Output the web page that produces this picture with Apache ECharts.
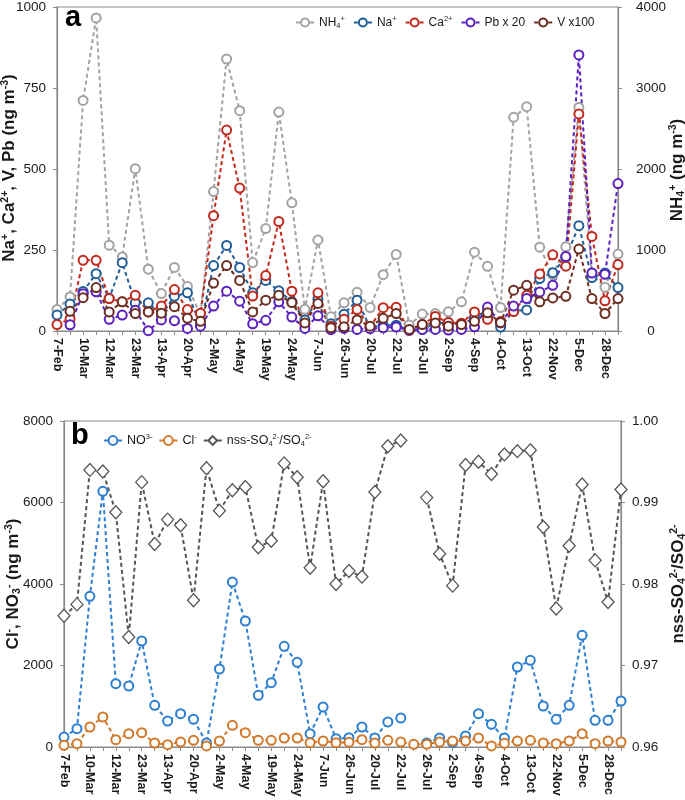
<!DOCTYPE html>
<html><head><meta charset="utf-8">
<script src="https://cdn.jsdelivr.net/npm/echarts@6/dist/echarts.min.js"></script>
<style>html,body{margin:0;padding:0;background:#fff}#c{width:685px;height:800px}</style>
</head><body><div id="c"></div>
<script>
const tickLabels = ['7-Feb','10-Mar','12-Mar','23-Mar','13-Apr','20-Apr','2-May','4-May','19-May','24-May','7-Jun','26-Jun','20-Jul','22-Jul','26-Jul','2-Sep','4-Sep','4-Oct','13-Oct','22-Nov','5-Dec','28-Dec'];
// panel a
const nh4 = [266,421,2847,3865,1060,915,2004,763,462,785,548,200,1722,3358,2720,845,1264,2703,1583,268,1125,176,348,478,290,695,945,74,209,215,237,360,973,798,290,2638,2769,1035,695,1040,2760,700,540,950];
const na = [49,83,122,177,101,211,87,87,49,107,118,18,202,264,196,118,156,124,91,34,98,22,52,95,11,18,18,3,5,24,26,18,42,63,12,62,65,162,180,227,325,165,179,134];
const ca = [20,37,218,218,100,90,110,59,77,128,66,55,356,620,441,108,171,338,123,22,118,15,36,66,13,72,73,2,20,45,26,24,59,36,29,60,110,176,235,200,670,292,93,205];
const pb20 = [null,19,115,121,36,49,64,1,34,32,8,15,77,123,92,22,33,90,43,8,47,4,8,5,7,10,12,3,5,5,3,5,13,74,25,77,100,120,141,230,852,179,175,455];
const v100 = [null,61,103,134,59,90,54,59,55,75,39,30,148,202,156,59,95,110,88,25,85,10,13,34,15,39,54,5,20,25,15,20,30,56,26,126,141,90,102,107,253,100,54,100];
// panel b
const no3 = [245,450,3697,6274,1554,1497,2601,1023,638,818,679,98,1914,4049,3092,1268,1579,2470,2078,327,982,205,229,491,221,614,712,null,98,221,106,270,818,556,221,1963,2127,1006,679,1023,2740,654,654,1129];
const cl = [41,82,491,736,180,327,352,98,57,123,164,25,147,532,352,164,164,221,221,106,147,106,115,180,98,164,123,65,70,123,147,147,221,25,90,147,164,98,82,147,327,82,147,123];
const ratio = [0.9761,0.9775,0.9940,0.9938,0.9888,0.9735,0.9925,0.9849,0.9879,0.9872,0.9780,0.9942,0.9890,0.9915,0.9919,0.9845,0.9853,0.9948,0.9931,0.9820,0.9926,0.9800,0.9816,0.9809,0.9913,0.9969,0.9976,null,0.9906,0.9837,0.9798,0.9946,0.9950,0.9935,0.9959,0.9963,0.9964,0.9870,0.9770,0.9847,0.9922,0.9829,0.9778,0.9916];

const categories = [];
for (let i = 0; i < nh4.length; i++) categories.push(i % 2 === 0 ? tickLabels[i / 2] : '');

const FONT = '"Liberation Sans", Arial, Helvetica, sans-serif';
const AXIS_C = '#8a8a8a';
const TXT = '#1a1a1a';

function lineSeries(name, data, color, xi, yi, sym) {
  const isDia = sym === 'diamond';
  return {
    name, type: 'line', data, xAxisIndex: xi, yAxisIndex: yi,
    symbol: isDia ? 'diamond' : 'circle',
    symbolSize: isDia ? [12, 13] : 9,
    showAllSymbol: true,
    connectNulls: false,
    itemStyle: { color: '#fff', borderColor: color, borderWidth: isDia ? 1.3 : 2 },
    lineStyle: { color, width: 2, type: [4, 3] },
    emphasis: { disabled: true },
    z: 3
  };
}

const supRich = {
  s: { fontSize: 7.5, verticalAlign: 'top', fontFamily: FONT, color: TXT, lineHeight: 15 },
  u: { fontSize: 7.5, verticalAlign: 'bottom', fontFamily: FONT, color: TXT, lineHeight: 15 }
};
const legendText = {
  'NH4+': 'NH{u|4}{s|+}', 'Na+': 'Na{s|+}', 'Ca2+': 'Ca{s|2+}', 'Pb x 20': 'Pb x 20', 'V x100': 'V x100',
  'NO3-': 'NO{s|3-}', 'Cl-': 'Cl{s|-}', 'ratio': 'nss-SO{u|4}{s|2-}/SO{u|4}{s|2-}'
};

function xAxis(gi) {
  return {
    type: 'category', gridIndex: gi, data: categories, boundaryGap: false,
    axisLine: { lineStyle: { color: AXIS_C, width: 1.2 } },
    axisTick: { show: true, interval: 0, length: 4, lineStyle: { color: AXIS_C } },
    axisLabel: { interval: 1, rotate: -90, margin: 7, fontSize: 12.5, fontWeight: 'bold', color: TXT, fontFamily: FONT },
    splitLine: { show: false }
  };
}
function yAxis(gi, pos, min, max, interval, margin, fmt, align) {
  return {
    type: 'value', gridIndex: gi, position: pos, min, max, interval,
    axisLine: { show: true, lineStyle: { color: AXIS_C, width: 1.2 } },
    axisTick: { show: true, length: 4, lineStyle: { color: AXIS_C } },
    axisLabel: Object.assign({ margin, fontSize: 13.5, color: TXT, fontFamily: FONT, formatter: fmt || (v => String(v)) }, align ? { align } : {}),
    splitLine: { show: false }
  };
}

function title(x, y, rich) {
  return {
    type: 'text', x, y, rotation: Math.PI / 2,
    style: {
      text: rich, font: 'bold 17px ' + FONT, fill: TXT, align: 'center', verticalAlign: 'middle',
      rich: {
        s: { fontSize: 10.5, fontWeight: 'bold', fontFamily: FONT, fill: TXT, verticalAlign: 'top', lineHeight: 19 },
        u: { fontSize: 10.5, fontWeight: 'bold', fontFamily: FONT, fill: TXT, verticalAlign: 'bottom', lineHeight: 19 }
      }
    }
  };
}

const option = {
  animation: false,
  backgroundColor: '#fff',
  textStyle: { fontFamily: FONT },
  grid: [
    { left: 57, right: 67, top: 5, bottom: 469, show: true, borderColor: AXIS_C, borderWidth: 1.2 },
    { left: 64, right: 64, top: 421, bottom: 53, show: true, borderColor: AXIS_C, borderWidth: 1.2 }
  ],
  legend: [
    {
      data: ['NH4+', 'Na+', 'Ca2+', 'Pb x 20', 'V x100'], left: 290, top: 10,
      itemWidth: 18, itemHeight: 10, itemGap: 8,
      formatter: n => legendText[n],
      textStyle: { fontSize: 12, color: TXT, fontFamily: FONT, rich: supRich }
    },
    {
      data: ['NO3-', 'Cl-', 'ratio'], left: 98, top: 428,
      itemWidth: 18, itemHeight: 11, itemGap: 6,
      formatter: n => legendText[n],
      textStyle: { fontSize: 12.5, color: TXT, fontFamily: FONT, rich: supRich }
    }
  ],
  xAxis: [xAxis(0), xAxis(1)],
  yAxis: [
    yAxis(0, 'left', 0, 1000, 250, 11),
    yAxis(0, 'right', 0, 4000, 1000, 33, null, 'center'),
    yAxis(1, 'left', 0, 8000, 2000, 11),
    yAxis(1, 'right', 0.96, 1.00, 0.01, 11, v => v.toFixed(2))
  ],
  series: [
    lineSeries('NH4+', nh4, '#a3a3a3', 0, 1),
    lineSeries('Na+', na, '#1f5e98', 0, 0),
    lineSeries('Ca2+', ca, '#c2291c', 0, 0),
    lineSeries('Pb x 20', pb20, '#5a20c2', 0, 0),
    lineSeries('V x100', v100, '#6c2e20', 0, 0),
    lineSeries('NO3-', no3, '#2d7fd2', 1, 2),
    lineSeries('Cl-', cl, '#d2782a', 1, 2),
    lineSeries('ratio', ratio, '#555555', 1, 3, 'diamond')
  ],
  graphic: [
    { type: 'text', x: 65, y: 18, style: { text: 'a', font: 'bold 29px ' + FONT, fill: '#000', align: 'left', verticalAlign: 'middle' } },
    { type: 'text', x: 71, y: 436, style: { text: 'b', font: 'bold 29px ' + FONT, fill: '#000', align: 'left', verticalAlign: 'middle' } },
    title(9, 168, 'Na{s|+}, Ca{s|2+}, V, Pb (ng m{s|-3})'),
    title(677, 170, 'NH{u|4}{s|+} (ng m{s|-3})'),
    title(13, 584, 'Cl{s|-}, NO{u|3}{s|-} (ng m{s|-3})'),
    title(678, 584, 'nss-SO{u|4}{s|2-}/SO{u|4}{s|2-}')
  ]
};

const chart = echarts.init(document.getElementById('c'), null, { renderer: 'canvas' });
chart.setOption(option);
</script>
</body></html>
